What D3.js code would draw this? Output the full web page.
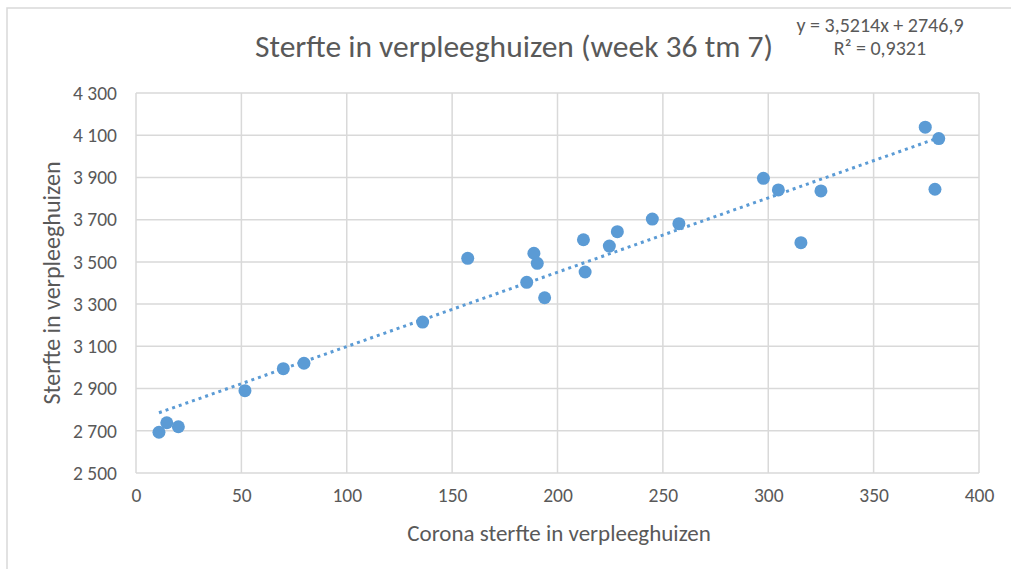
<!DOCTYPE html>
<html>
<head>
<meta charset="utf-8">
<script src="https://cdn.jsdelivr.net/npm/d3@7"></script>
<style>
  body { margin: 0; background: #fff; }
  svg text { font-family: Carlito, Calibri, "Liberation Sans Narrow", "Open Sans", sans-serif; fill: #595959; }
</style>
</head>
<body>
<svg id="chart"></svg>
<script>
// corona deaths in nursing homes per week (week 36 .. week 7)
const coronaDeaths = [10.9, 14.6, 20.1, 51.7, 69.9, 79.7, 136, 157.4, 188.8, 190.4,
  185.4, 193.9, 212.3, 213.1, 224.6, 228.4, 245, 257.6, 297.7, 304.8,
  315.5, 325, 374.5, 380.9, 379.1];
// total deaths in nursing homes, same weeks
const totalDeaths = [2693, 2738, 2719, 2890, 2994, 3020, 3215, 3517, 3541, 3493,
  3403, 3330, 3605, 3452, 3575, 3643, 3703, 3681, 3896, 3841,
  3591, 3836, 4138, 4084, 3844];

const xTicks = [0, 50, 100, 150, 200, 250, 300, 350, 400];
const yTicks = [2500, 2700, 2900, 3100, 3300, 3500, 3700, 3900, 4100, 4300];

const slope = 3.5214, intercept = 2746.9;
const equationText = 'y = 3,5214x + 2746,9';
const r2Text = 'R² = 0,9321';

const W = 1011, H = 569;
const svg = d3.select('#chart').attr('width', W).attr('height', H);

// outer chart frame
svg.append('rect')
  .attr('x', 7).attr('y', 8)
  .attr('width', W + 10).attr('height', H + 10)
  .attr('fill', 'none')
  .attr('stroke', '#d9d9d9')
  .attr('stroke-width', 1.5);

const xScale = d3.scaleLinear().domain([0, 400]).range([136, 979]);
const yScale = d3.scaleLinear().domain([2500, 4300]).range([473, 93]);

const grid = svg.append('g');
grid.selectAll('.hg')
  .data(yTicks)
  .join('line')
  .attr('x1', xScale(0)).attr('x2', xScale(400))
  .attr('y1', d => yScale(d)).attr('y2', d => yScale(d))
  .attr('stroke', '#d9d9d9').attr('stroke-width', 1.5);
grid.selectAll('.vg')
  .data(xTicks)
  .join('line')
  .attr('y1', yScale(2500)).attr('y2', yScale(4300))
  .attr('x1', d => xScale(d)).attr('x2', d => xScale(d))
  .attr('stroke', '#d9d9d9').attr('stroke-width', 1.5);

const fmt = d => d3.format(',')(d).replace(',', ' ');

const xAxis = svg.append('g')
  .attr('transform', `translate(0,${yScale(2500)})`)
  .call(d3.axisBottom(xScale).tickValues(xTicks).tickSize(0).tickPadding(15));
const yAxis = svg.append('g')
  .attr('transform', `translate(${xScale(0)},0)`)
  .call(d3.axisLeft(yScale).tickValues(yTicks).tickFormat(fmt).tickSize(0).tickPadding(19));
[xAxis, yAxis].forEach(a => {
  a.select('.domain').remove();
  a.selectAll('text').style('font-size', '19.5px').attr('fill', '#595959');
});

// trendline
const xMin = d3.min(coronaDeaths), xMax = d3.max(coronaDeaths);
svg.append('line')
  .attr('x1', xScale(xMin)).attr('y1', yScale(slope * xMin + intercept))
  .attr('x2', xScale(xMax)).attr('y2', yScale(slope * xMax + intercept))
  .attr('stroke', '#5b9bd5')
  .attr('stroke-width', 3)
  .attr('stroke-dasharray', '3,4');

svg.append('g')
  .selectAll('circle')
  .data(coronaDeaths.map((d, i) => [d, totalDeaths[i]]))
  .join('circle')
  .attr('cx', d => xScale(d[0]))
  .attr('cy', d => yScale(d[1]))
  .attr('r', 6.5)
  .attr('fill', '#5b9bd5');

svg.append('text')
  .attr('x', 514).attr('y', 57)
  .attr('text-anchor', 'middle')
  .style('font-size', '31.5px')
  .text('Sterfte in verpleeghuizen (week 36 tm 7)');

svg.append('text')
  .attr('x', 880).attr('y', 32)
  .attr('text-anchor', 'middle')
  .style('font-size', '20px')
  .text(equationText);
svg.append('text')
  .attr('x', 880).attr('y', 55)
  .attr('text-anchor', 'middle')
  .style('font-size', '20px')
  .text(r2Text);

svg.append('text')
  .attr('x', 559).attr('y', 541)
  .attr('text-anchor', 'middle')
  .style('font-size', '23px')
  .text('Corona sterfte in verpleeghuizen');

svg.append('text')
  .attr('transform', `translate(60,${(yScale(2500) + yScale(4300)) / 2}) rotate(-90)`)
  .attr('text-anchor', 'middle')
  .style('font-size', '24px')
  .text('Sterfte in verpleeghuizen');
</script>
</body>
</html>
